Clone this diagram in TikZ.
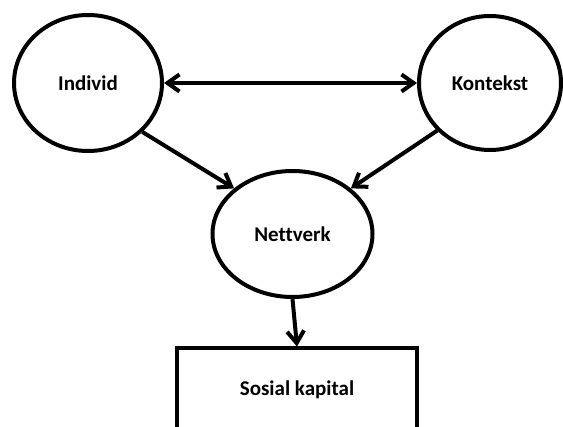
\documentclass[tikz,border=0pt]{standalone}
\usepackage{fontspec}
\setmainfont{Carlito}[Ligatures=NoCommon]
\usetikzlibrary{arrows.meta,shapes.geometric}
\begin{document}
\begin{tikzpicture}[x=1pt,y=-1pt,
  every node/.style={font=\bfseries\fontsize{21}{25}\selectfont},
  bubble/.style={draw, line width=4pt, ellipse, inner sep=0pt},
  resultbox/.style={draw, line width=4pt, rectangle, inner sep=0pt,
                    minimum width=240pt, minimum height=82pt},
  link/.style={line width=4pt, -{Straight Barb[length=12pt,width=17pt]}},
  twoway/.style={line width=4pt, {Straight Barb[length=12pt,width=17pt]}-{Straight Barb[length=12pt,width=17pt]}}]
\useasboundingbox (0,0) rectangle (563,427);
% the three factors
\node[bubble, minimum width=148pt, minimum height=136pt] (ind) at (88,83) {Individ};
\node[bubble, minimum width=142pt, minimum height=134pt] (kon) at (490,83) {Kontekst};
\node[bubble, minimum width=160pt, minimum height=126pt] (net) at (292.5,234) {Nettverk};
% outcome; its lower edge runs past the bottom of the page
\node[resultbox] (cap) at (297,389.5) {Sosial kapital};
% relations
\draw[twoway] (ind.east) -- (kon.west);
\draw[link] (ind.-42) -- (net.142);
\draw[link] (kon.222) -- (net.38);
\draw[link] (net.south) -- (cap.north);
\end{tikzpicture}
\end{document}
